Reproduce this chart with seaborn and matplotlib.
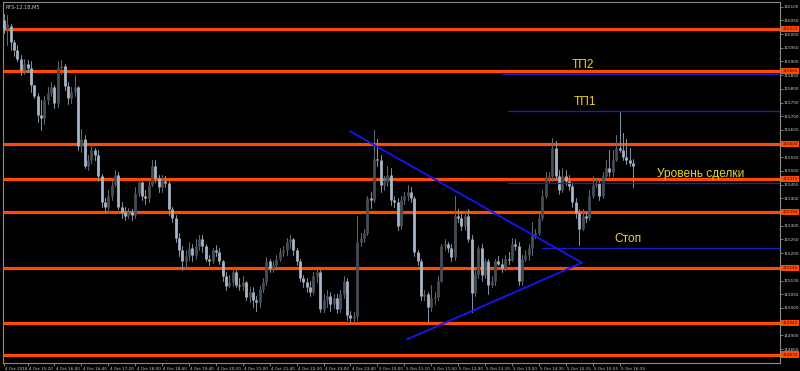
import numpy as np
import pandas as pd
import matplotlib
matplotlib.use("Agg")
import matplotlib.pyplot as plt
import matplotlib.transforms as mtransforms
import seaborn as sns

title = "RTS-12.18,M5"

opens = [116050,116020,116030,115970,115940,115910,115870,115890,115875,115815,
         115775,115705,115695,115760,115785,115805,115750,115875,115885,115810,
         115765,115790,115805,115590,115615,115520,115540,115575,115560,115480,
         115385,115370,115410,115450,115485,115370,115350,115335,115350,115340,
         115420,115460,115410,115400,115450,115520,115475,115440,115465,115455,
         115360,115330,115255,115210,115170,115190,115220,115195,115225,115250,
         115225,115180,115170,115210,115205,115170,115115,115080,115095,115130,
         115085,115080,115095,115040,115060,115030,115020,115070,115095,115170,
         115145,115155,115180,115205,115210,115240,115250,115210,115170,115110,
         115095,115075,115060,115115,115130,114995,115030,115045,115015,115035,
         114995,115050,115100,114975,114965,114970,115240,115255,115275,115400,
         115395,115545,115540,115450,115460,115485,115395,115385,115300,115395,
         115410,115425,115400,115205,115170,115045,115050,115005,115035,115040,
         115100,115225,115235,115220,115185,115335,115330,115300,115335,115250,
         115055,115125,115220,115120,115170,115085,115100,115170,115160,115145,
         115180,115175,115235,115225,115100,115180,115195,115220,115265,115275,
         115330,115410,115475,115480,115585,115480,115430,115480,115465,115445,
         115385,115345,115290,115335,115330,115410,115450,115455,115410,115480,
         115510,115495,115540,115585,115575,115550,115540,115530]
highs = [116075,116070,116035,115980,115960,115925,115910,115905,115900,115815,
         115785,115760,115775,115805,115825,115815,115900,115905,115890,115825,
         115805,115850,115810,115655,115630,115560,115590,115585,115575,115490,
         115400,115430,115465,115505,115495,115385,115370,115365,115360,115440,
         115475,115465,115430,115465,115540,115540,115485,115485,115480,115465,
         115370,115340,115275,115225,115210,115240,115235,115250,115265,115265,
         115235,115195,115220,115230,115220,115175,115130,115120,115145,115140,
         115110,115115,115100,115075,115075,115045,115080,115110,115185,115180,
         115170,115195,115220,115225,115255,115265,115255,115220,115180,115120,
         115110,115100,115130,115140,115140,115050,115065,115060,115050,115050,
         115065,115115,115110,114990,114985,115335,115275,115290,115410,115425,
         115650,115615,115560,115480,115520,115510,115410,115400,115410,115425,
         115450,115440,115410,115210,115180,115065,115060,115085,115060,115115,
         115235,115250,115240,115235,115410,115360,115350,115350,115360,115265,
         115140,115225,115235,115180,115180,115115,115180,115190,115180,115195,
         115205,115255,115250,115240,115195,115210,115235,115315,115290,115345,
         115430,115495,115495,115620,115610,115505,115510,115505,115485,115460,
         115400,115360,115360,115350,115430,115480,115475,115465,115495,115540,
         115575,115575,115630,115715,115640,115615,115585,115545]
lows = [116005,115960,115940,115920,115900,115850,115855,115860,115790,115765,
        115680,115650,115670,115745,115775,115730,115735,115855,115795,115745,
        115750,115775,115575,115570,115510,115505,115530,115540,115465,115370,
        115350,115345,115395,115445,115360,115330,115320,115330,115320,115330,
        115410,115395,115380,115385,115445,115460,115425,115425,115440,115340,
        115315,115240,115190,115140,115145,115175,115170,115180,115210,115205,
        115170,115155,115165,115190,115160,115100,115065,115075,115080,115075,
        115065,115065,115030,115020,115005,114990,115005,115060,115085,115130,
        115130,115140,115170,115190,115195,115220,115195,115155,115100,115075,
        115060,115045,115050,115095,114985,114985,115005,114990,115000,114980,
        114985,115035,114955,114950,114950,114955,115225,115240,115265,115365,
        115385,115520,115425,115430,115445,115375,115370,115285,115290,115380,
        115395,115385,115190,115155,115030,115030,114945,114990,115015,115030,
        115095,115210,115205,115170,115175,115315,115285,115285,115240,114985,
        115045,115110,115100,115110,115050,115075,115085,115155,115130,115140,
        115160,115170,115210,115085,115085,115170,115175,115195,115255,115265,
        115320,115400,115460,115465,115475,115415,115425,115450,115430,115370,
        115330,115230,115285,115315,115320,115400,115440,115395,115400,115475,
        115480,115480,115535,115570,115540,115525,115520,115440]
closes = [116020,116035,115970,115940,115910,115870,115890,115875,115815,115775,
          115705,115695,115760,115785,115805,115750,115875,115885,115810,115765,
          115790,115805,115590,115615,115520,115540,115575,115560,115480,115385,
          115370,115410,115450,115485,115370,115350,115335,115350,115340,115420,
          115460,115410,115400,115450,115520,115475,115440,115465,115455,115360,
          115330,115255,115210,115170,115190,115220,115195,115225,115250,115225,
          115180,115170,115210,115205,115170,115115,115080,115095,115130,115085,
          115080,115095,115040,115060,115030,115020,115070,115095,115170,115145,
          115155,115180,115205,115210,115240,115250,115210,115170,115110,115095,
          115075,115060,115115,115130,114995,115030,115045,115015,115035,114995,
          115050,115100,114975,114965,114970,115240,115255,115275,115400,115395,
          115545,115540,115450,115460,115485,115395,115385,115300,115395,115410,
          115425,115400,115205,115170,115045,115050,115005,115035,115040,115100,
          115225,115235,115220,115185,115335,115330,115300,115335,115250,115055,
          115125,115220,115120,115170,115085,115100,115170,115160,115145,115180,
          115175,115235,115225,115100,115180,115195,115220,115265,115275,115330,
          115410,115475,115480,115585,115480,115430,115480,115465,115445,115385,
          115345,115290,115335,115330,115410,115450,115455,115410,115480,115510,
          115495,115540,115585,115575,115550,115540,115530,115520]

level_prices = [116020, 115865, 115600, 115470, 115350, 115145, 114945, 114830]

trade_names = ["ТП2", "ТП1", "Уровень сделки", "Стоп"]
trade_prices = [115855, 115720, 115455, 115220]
trade_start_bars = [148.0, 149.7, 149.7, 159.9]
trade_label_bars = [172.1, 172.7, 207.2, 185.5]

triangle_bars = [102.9, 171.8, 119.8]
triangle_prices = [115645, 115165, 114885]

ytick_values = [114850, 114900, 114950, 115000, 115050, 115100, 115150, 115200,
                115250, 115300, 115350, 115400, 115450, 115500, 115550, 115600,
                115650, 115700, 115750, 115800, 115850, 115900, 115950, 116000,
                116050, 116100]
xtick_bars = [0, 7, 15, 23, 31, 39, 47, 55, 63, 71, 79, 87, 95, 103, 111, 119,
              127, 135, 143, 151, 159, 167, 175, 183]
xtick_labels = ["4 Oct 2018", "4 Oct 15:20", "4 Oct 16:00", "4 Oct 16:40",
                "4 Oct 17:20", "4 Oct 18:00", "4 Oct 18:40", "4 Oct 19:40",
                "4 Oct 20:20", "4 Oct 21:00", "4 Oct 21:40", "4 Oct 22:20",
                "4 Oct 23:00", "4 Oct 23:40", "5 Oct 10:00", "5 Oct 11:10",
                "5 Oct 11:50", "5 Oct 12:30", "5 Oct 13:10", "5 Oct 13:50",
                "5 Oct 14:35", "5 Oct 15:15", "5 Oct 15:55", "5 Oct 16:35"]

sns.set_style("dark", {"axes.facecolor": "black", "figure.facecolor": "black"})
plt.rcParams["font.family"] = ["DejaVu Sans"]

fig = plt.figure(figsize=(8.0, 3.71), dpi=100)
fig.patch.set_facecolor("black")
ax = fig.add_axes([3 / 800, 8 / 371, 777 / 800, 361 / 371])
ax.set_facecolor("black")

# orange support / resistance levels
for p in level_prices:
    ax.axhline(p, color="#ff4a00", lw=2.3, zorder=1)

# candles
n = len(closes)
bars = np.arange(n)
o = np.array(opens)
c = np.array(closes)
direction = np.where(c > o, "up", "down")

wick_df = pd.DataFrame({
    "bar": np.repeat(bars, 2),
    "price": np.ravel(np.column_stack([lows, highs])),
    "dir": np.repeat(direction, 2),
})
body_df = pd.DataFrame({
    "bar": np.repeat(bars, 2),
    "price": np.ravel(np.column_stack([opens, closes])),
    "dir": np.repeat(direction, 2),
})
sns.lineplot(data=wick_df, x="bar", y="price", units="bar", estimator=None,
             hue="dir", palette={"up": "#5f6872", "down": "#8090a0"},
             lw=0.75, legend=False, sort=False, ax=ax, zorder=3)
sns.lineplot(data=body_df, x="bar", y="price", units="bar", estimator=None,
             hue="dir", palette={"up": "#454d56", "down": "#a6b6c6"},
             lw=2.0, legend=False, sort=False, ax=ax, zorder=4,
             solid_capstyle="butt")

# triangle
ax.plot(triangle_bars[:2], triangle_prices[:2], color="#1515ff", lw=1.3, zorder=5)
ax.plot(triangle_bars[1:], triangle_prices[1:], color="#1515ff", lw=1.3, zorder=5)

# trade levels
for name, p, sb, lb in zip(trade_names, trade_prices, trade_start_bars, trade_label_bars):
    ax.plot([sb, 232], [p, p], color="#1c1cc8", lw=0.9, zorder=5)
    ax.annotate(name, xy=(lb, p), xytext=(0, 4.2), textcoords="offset points",
                ha="center", va="baseline", color="#ecd41e", fontsize=8.6,
                family=["Liberation Sans", "DejaVu Sans"], zorder=6)

ax.set_xlim(-0.3, 230.7)
ax.set_ylim(114799, 116117)
ax.set_xlabel("")
ax.set_ylabel("")

# axes styling
for side in ["left", "top", "right", "bottom"]:
    ax.spines[side].set_visible(True)
    ax.spines[side].set_color("#8a8a8a")
    ax.spines[side].set_linewidth(0.8)

ax.yaxis.tick_right()
ax.set_yticks(ytick_values)
ax.set_yticklabels([str(v) for v in ytick_values])
ax.tick_params(axis="y", which="both", right=True, left=False, length=2.0,
               width=0.6, color="#8a8a8a", labelsize=3.0, labelcolor="#d0d0d0", pad=0.6)
ax.set_xticks(xtick_bars)
ax.set_xticklabels(xtick_labels)
ax.tick_params(axis="x", which="both", bottom=True, length=2.2, width=0.6,
               color="#8a8a8a", labelsize=3.0, labelcolor="#d0d0d0", pad=0.8)
shift = mtransforms.ScaledTranslation(1.0 / 72, 0, fig.dpi_scale_trans)
for lbl in ax.get_xticklabels():
    lbl.set_horizontalalignment("left")
    lbl.set_transform(lbl.get_transform() + shift)
ax.grid(False)

# orange price tags on the price scale
trans = mtransforms.blended_transform_factory(ax.transAxes, ax.transData)
for p in level_prices:
    ax.text(1.003, p, str(p), transform=trans, ha="left", va="center",
            fontsize=3.0, color="#3a1000", clip_on=False, zorder=7,
            bbox=dict(boxstyle="square,pad=0.25", fc="#ff4a00", ec="none"))

fig.text(5 / 800, 1 - 7 / 371, title, color="#c8c8c8", fontsize=3.6,
         ha="left", va="center")

fig.savefig("out.png", dpi=100, facecolor="black")
